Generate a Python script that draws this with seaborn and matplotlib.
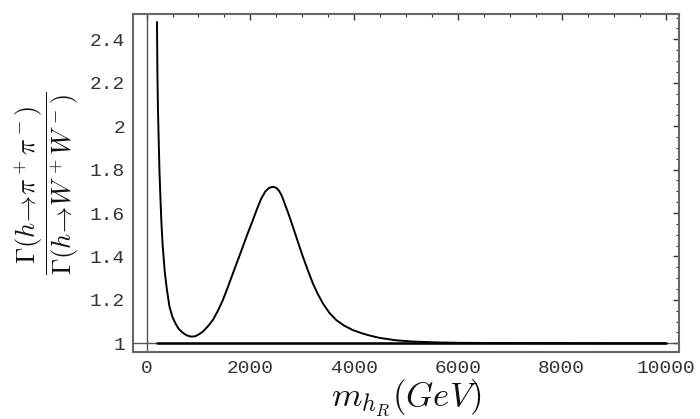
import numpy as np
import pandas as pd
import matplotlib
matplotlib.use("Agg")
import matplotlib.pyplot as plt
import seaborn as sns

# ratio curve
masa = [200, 205, 210, 220, 235, 250, 270, 285, 310, 350, 390, 440, 500,
        560, 620, 690, 770, 850, 930, 1000, 1085, 1180, 1277, 1370, 1470,
        1565, 1663, 1760, 1855, 1950, 2048, 2130, 2210, 2290, 2360, 2437,
        2500, 2560, 2610, 2659, 2740, 2819, 2915, 3012, 3108, 3204, 3300,
        3397, 3520, 3655, 3810, 3975, 4140, 4297, 4489, 4800, 5131, 5600,
        6094, 7000, 8000, 9000, 10000]
cociente = [2.48, 2.35, 2.22, 2.07, 1.92, 1.78, 1.65, 1.56, 1.45, 1.33,
            1.25, 1.17, 1.12, 1.09, 1.066, 1.05, 1.037, 1.031, 1.032, 1.04,
            1.054, 1.078, 1.107, 1.148, 1.199, 1.258, 1.322, 1.384, 1.445,
            1.507, 1.567, 1.62, 1.667, 1.70, 1.716, 1.721, 1.716, 1.70,
            1.677, 1.645, 1.593, 1.537, 1.468, 1.399, 1.336, 1.276, 1.227,
            1.184, 1.141, 1.107, 1.081, 1.061, 1.047, 1.036, 1.025, 1.014,
            1.008, 1.004, 1.002, 1.001, 1.0005, 1.0002, 1.0]

# constant reference line
masa_ref = [200, 10000]
cociente_ref = [1.0, 1.0]

xticks = [0, 2000, 4000, 6000, 8000, 10000]
xtick_labels = ["0", "2000", "4000", "6000", "8000", "10000"]
yticks = [1.0, 1.2, 1.4, 1.6, 1.8, 2.0, 2.2, 2.4]
ytick_labels = ["1", "1.2", "1.4", "1.6", "1.8", "2", "2.2", "2.4"]

sns.set_style("white")
plt.rcParams["mathtext.fontset"] = "cm"
plt.rcParams["font.family"] = ["Liberation Mono", "DejaVu Sans Mono"]

fig = plt.figure(figsize=(7, 4.19), dpi=100)
ax = fig.add_axes([0.1905, 0.1606, 0.7795, 0.806])

# axes through x=0 and y=1
ax.axvline(0, color="#555555", lw=1.0, zorder=1)
ax.axhline(1, color="#555555", lw=1.0, zorder=1)

df = pd.DataFrame({"m": masa, "r": cociente})
df_ref = pd.DataFrame({"m": masa_ref, "r": cociente_ref})
sns.lineplot(data=df_ref, x="m", y="r", color="black", lw=1.8,
             sort=False, estimator=None, ax=ax, zorder=2)
sns.lineplot(data=df, x="m", y="r", color="black", lw=1.4,
             sort=False, estimator=None, ax=ax, zorder=3)

ax.set_xlim(-255, 10260)
ax.set_ylim(0.9613, 2.5168)

ax.set_xticks(xticks)
ax.set_xticklabels(xtick_labels)
ax.set_yticks(yticks)
ax.set_yticklabels(ytick_labels)
ax.set_xticks(np.arange(0, 10001, 500), minor=True)
ax.set_yticks(np.arange(1.0, 2.51, 0.05), minor=True)

ax.tick_params(which="both", direction="in", top=True, right=True,
               color="#333333", labelcolor="#333333", labelsize=14)
ax.tick_params(which="major", length=4, width=1.0)
ax.tick_params(which="minor", length=2.5, width=0.8)
ax.tick_params(axis="x", pad=6)
ax.tick_params(axis="y", pad=6)

for s in ax.spines.values():
    s.set_color("#666666")
    s.set_linewidth(1.5)

ax.set_xlabel(r"$m_{h_R}(GeV)$", fontsize=25, labelpad=0, color="#111111")
ax.set_ylabel(r"$\dfrac{\Gamma(h\!\rightarrow\!\pi^+\pi^-)}{\Gamma(h\!\rightarrow\!W^+W^-)}$",
              fontsize=19, labelpad=6, color="#111111")

fig.savefig("out.png", dpi=100)
